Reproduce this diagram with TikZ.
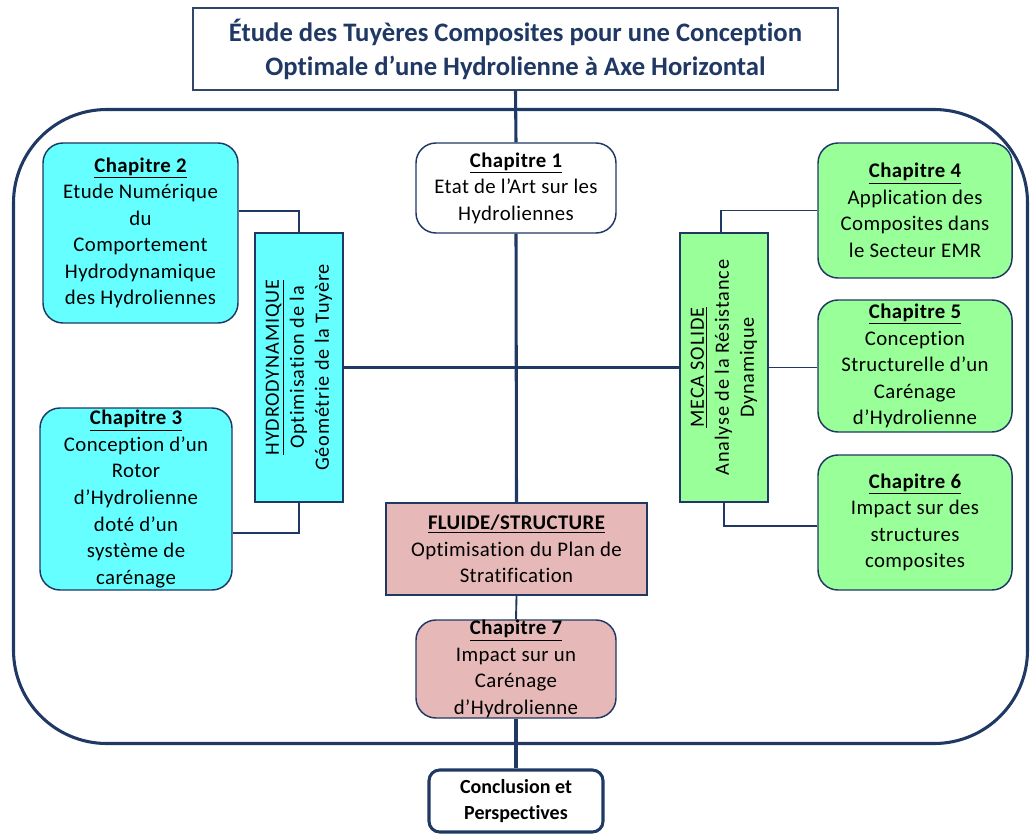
\documentclass[tikz,border=0pt]{standalone}
\usepackage{fontspec}
\setmainfont{Carlito}[Ligatures=NoCommon]
\usetikzlibrary{positioning}

\definecolor{navy}{RGB}{31,56,100}
\definecolor{cyanbox}{RGB}{102,255,255}
\definecolor{greenbox}{RGB}{153,255,153}
\definecolor{pinkbox}{RGB}{230,185,184}

\tikzset{
  chap/.style={draw=navy, line width=1.1pt, rounded corners=15pt, align=center,
    inner sep=0pt, font=\fontsize{15.6}{19.9}\selectfont\addfontfeature{LetterSpace=2}},
  theme/.style={draw=navy, line width=1.1pt, rotate=90, align=center, inner sep=0pt,
    minimum width=201.75pt, minimum height=66pt,
    font=\fontsize{15.2}{18.75}\selectfont\addfontfeature{LetterSpace=4}},
  trunk/.style={navy, line width=2.3pt},
  link/.style={navy, line width=1.4pt},
}

\begin{document}
\begin{tikzpicture}[x=0.75pt, y=0.75pt]
        \useasboundingbox (0,0) rectangle (1030,-834);

        % cadre general
        \node[draw=navy, line width=2.3pt, rounded corners=70pt, minimum width=760.5pt,
              minimum height=475.5pt] (frame) at (520.5,-426.5) {};

        \node[draw=navy!80!gray, line width=1.8pt, fill=white, minimum width=483.75pt,
              minimum height=61.5pt, align=center, text=navy,
              font=\fontsize{20}{25.5}\selectfont\bfseries] (title) at (515.5,-49)
              {Étude des Tuyères Composites pour une Conception\\
               Optimale d’une Hydrolienne à Axe Horizontal};

        \node[chap, fill=white, minimum width=150pt, minimum height=67.5pt] (ch1) at (516,-188)
              {\textbf{\underline{Chapitre 1}}\\Etat de l’Art sur les\\Hydroliennes};

        % hydrodynamique
        \node[chap, fill=cyanbox, minimum width=146.25pt, minimum height=135pt] (ch2) at (140.5,-233)
              {\textbf{\underline{Chapitre 2}}\\Etude Numérique\\du\\Comportement\\Hydrodynamique\\des Hydroliennes};
        \node[chap, fill=cyanbox, minimum width=144pt, minimum height=136.5pt] (ch3) at (136,-499)
              {\textbf{\underline{Chapitre 3}}\\Conception d’un\\Rotor\\d’Hydrolienne\\doté d’un\\système de\\carénage};
        \node[theme, fill=cyanbox] (hydro) at (299,-367.5)
              {\underline{HYDRODYNAMIQUE}\\Optimisation de la\\Géométrie de la Tuyère};

        % meca solide
        \node[theme, fill=greenbox] (meca) at (724,-367.5)
              {\underline{MECA SOLIDE}\\Analyse de la Résistance\\Dynamique};
        \node[chap, fill=greenbox, minimum width=145.5pt, minimum height=101.25pt] (ch4) at (915,-210.5)
              {\textbf{\underline{Chapitre 4}}\\Application des\\Composites dans\\le Secteur EMR};
        \node[chap, fill=greenbox, minimum width=145.5pt, minimum height=99pt] (ch5) at (915,-366)
              {\textbf{\underline{Chapitre 5}}\\Conception\\Structurelle d’un\\Carénage\\d’Hydrolienne};
        \node[chap, fill=greenbox, minimum width=145.5pt, minimum height=101.25pt] (ch6) at (915,-522.5)
              {\textbf{\underline{Chapitre 6}}\\Impact sur des\\structures\\composites};

        % fluide / structure
        \node[chap, rounded corners=0pt, fill=pinkbox, minimum width=195.75pt, minimum height=69pt] (fluide) at (516.5,-549)
              {\textbf{\underline{FLUIDE/STRUCTURE}}\\Optimisation du Plan de\\Stratification};
        \node[chap, fill=pinkbox, minimum width=150pt, minimum height=73.5pt] (ch7) at (516,-669)
              {\textbf{\underline{Chapitre 7}}\\Impact sur un\\Carénage\\d’Hydrolienne};

        \node[chap, fill=white, line width=2.3pt, rounded corners=8pt, minimum width=130.5pt,
              minimum height=46.5pt, font=\fontsize{15}{19.9}\selectfont\bfseries] (concl) at (516,-801)
              {Conclusion et\\Perspectives};

        % liaisons
        \draw[trunk] (title.south) -- (ch1.north);
        \draw[trunk] (ch1.south) -- (fluide.north);
        \draw[link] (fluide.south) -- (ch7.north);
        \draw[trunk] (ch7.south) -- (concl.north);
        \draw[trunk] (hydro.south) -- (meca.north);

        \draw[link] ([yshift=16.5pt]ch2.east) -| (hydro.east);
        \draw[link] ([yshift=-25.5pt]ch3.east) -| (hydro.west);
        \draw[link] ([xshift=-2pt]meca.east) |- (ch4.west);
        \draw[link] (meca.south) -- (meca.south -| ch5.west);
        \draw[link] (meca.west) |- ([yshift=-2.5pt]ch6.west);
    \end{tikzpicture}
\end{document}
